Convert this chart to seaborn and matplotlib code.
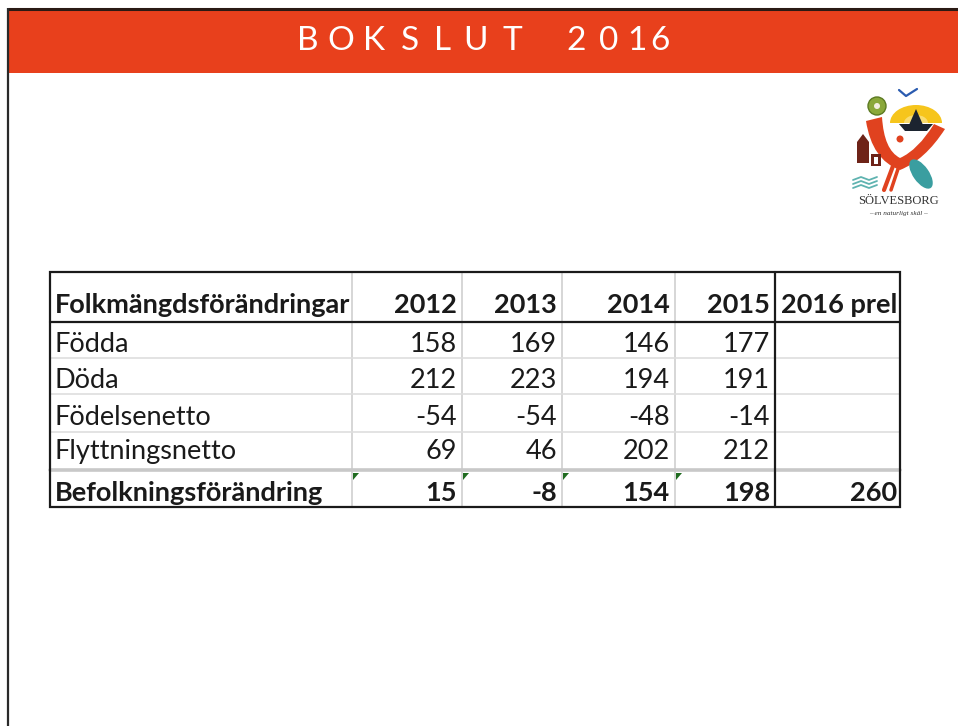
import numpy as np
import pandas as pd
import matplotlib
matplotlib.use("Agg")
import matplotlib.pyplot as plt
import seaborn as sns
from matplotlib.patches import Rectangle, Polygon, Circle, Ellipse, PathPatch
from matplotlib.path import Path

# ---------------- data ----------------
title = "BOKSLUT 2016"
header_label = "Folkmängdsförändringar"
columns = ["2012", "2013", "2014", "2015", "2016 prel"]
row_labels = ["Födda", "Döda", "Födelsenetto", "Flyttningsnetto", "Befolkningsförändring"]
fodda = [158, 169, 146, 177, None]
doda = [212, 223, 194, 191, None]
fodelsenetto = [-54, -54, -48, -14, None]
flyttningsnetto = [69, 46, 202, 212, None]
befolkningsforandring = [15, -8, 154, 198, 260]

table = pd.DataFrame([fodda, doda, fodelsenetto, flyttningsnetto, befolkningsforandring],
                     index=row_labels, columns=columns)

# ---------------- style ----------------
sns.set_theme(style="white")
plt.rcParams["font.family"] = ["Lato", "DejaVu Sans"]

W, H = 958, 726
fig = plt.figure(figsize=(W / 100, H / 100), dpi=100)
ax = fig.add_axes([0, 0, 1, 1])
ax.set_xlim(0, W)
ax.set_ylim(H, 0)
ax.axis("off")

RED = "#e8401c"
DARK = "#1a1a1a"
GRID = "#cfcfcf"

# slide frame and title band
ax.add_patch(Rectangle((8, 10), W - 8, 63, facecolor=RED, edgecolor="none", zorder=1))
ax.plot([8, W], [9, 9], color="#2a1a14", lw=2.2, zorder=2, solid_capstyle="butt")
ax.plot([8, 8], [8, H], color="#2a2a2a", lw=1.6, zorder=2, solid_capstyle="butt")

# letter-spaced title: one glyph per slot
title_slots = [308, 341, 374, 410, 443, 476, 512, None, 576, 609, 637, 660]
for ch, xc in zip(title, title_slots):
    if xc is None or ch == " ":
        continue
    ax.text(xc, 40.5, ch, color="white", fontsize=24, ha="center", va="center", zorder=3)

# ---------------- table layout ----------------
col_edges = [50, 352, 462, 562, 675, 775, 900]
row_edges = [272, 322, 358, 394, 432, 470, 507]
baselines = [313, 352, 388, 425, 459, 501]
FS = 19.5
PAD = 5

# interior light grid lines
for x in col_edges[1:5]:
    ax.plot([x, x], [row_edges[0], row_edges[-1]], color=GRID, lw=1.2, zorder=2)
for y in row_edges[2:5]:
    ax.plot([col_edges[0], col_edges[-1]], [y, y], color="#dedede", lw=1.2, zorder=2)
ax.plot([col_edges[0], col_edges[-1]], [row_edges[5], row_edges[5]], color="#c8c8c8", lw=2.6, zorder=2)

# strong borders
ax.add_patch(Rectangle((col_edges[0], row_edges[0]), col_edges[-1] - col_edges[0],
                       row_edges[-1] - row_edges[0], facecolor="none", edgecolor=DARK,
                       lw=1.6, zorder=4))
ax.plot([col_edges[0], col_edges[-1]], [row_edges[1], row_edges[1]], color=DARK, lw=1.6, zorder=4)
ax.plot([col_edges[5], col_edges[5]], [row_edges[0], row_edges[-1]], color=DARK, lw=1.6, zorder=4)

# header
ax.text(col_edges[0] + PAD, baselines[0], header_label, fontsize=FS, fontweight="bold",
        color=DARK, ha="left", va="baseline", zorder=5)
for j, c in enumerate(table.columns):
    ax.text(col_edges[j + 2] - PAD + (2 if j == 4 else 0), baselines[0], c, fontsize=FS,
            fontweight="bold", color=DARK, ha="right", va="baseline", zorder=5)

# body
last = len(table.index) - 1
for i, lab in enumerate(table.index):
    bold = "bold" if i == last else "normal"
    ax.text(col_edges[0] + PAD, baselines[i + 1], lab, fontsize=FS, fontweight=bold,
            color=DARK, ha="left", va="baseline", zorder=5)
    for j, c in enumerate(table.columns):
        v = table.loc[lab, c]
        if v is None or pd.isna(v):
            continue
        ax.text(col_edges[j + 2] - PAD + (2 if j == 4 else 0), baselines[i + 1], f"{int(v)}",
                fontsize=FS, fontweight=bold, color=DARK, ha="right", va="baseline", zorder=5)

# excel error-indicator triangles on the result row
for x in col_edges[1:5]:
    y0 = row_edges[5] + 3
    ax.add_patch(Polygon([(x + 1, y0), (x + 7, y0), (x + 1, y0 + 7)], closed=True,
                         facecolor="#1f6b1f", edgecolor="none", zorder=6))

# ---------------- logo (approximation) ----------------
LRED = "#e0421f"
# sun fan
ax.add_patch(Ellipse((916, 123), 52, 36, facecolor="#f6c51c", edgecolor="none", zorder=3))
ax.add_patch(Rectangle((888, 123), 56, 20, facecolor="white", edgecolor="none", zorder=3))
ax.add_patch(Ellipse((916, 123), 24, 16, facecolor="#f9dc70", edgecolor="none", zorder=3))
ax.add_patch(Rectangle((900, 123), 32, 10, facecolor="white", edgecolor="none", zorder=3))
# ship / lighthouse
ax.add_patch(Polygon([(909, 125), (923, 125), (916, 109)], closed=True,
                     facecolor="#1c2430", edgecolor="none", zorder=4))
ax.add_patch(Polygon([(899, 124), (933, 124), (927, 131), (905, 131)], closed=True,
                     facecolor="#1c2430", edgecolor="none", zorder=4))
# green circle and bird
ax.add_patch(Circle((877, 106), 9, facecolor="#8aa83a", edgecolor="#5c7a22", lw=1, zorder=3))
ax.add_patch(Circle((877, 106), 3, facecolor="#f2efe0", edgecolor="none", zorder=3))
ax.plot([899, 906, 917], [90, 96, 89], color="#2a5bb0", lw=1.6, zorder=3)
# red figure: curved U band with flared left arm, then two legs
verts = [(866, 121), (882, 117), (884, 150), (900, 158), (918, 150), (934, 124), (945, 129),
         (925, 160), (900, 170), (872, 160), (866, 121), (866, 121)]
codes = [Path.MOVETO, Path.LINETO, Path.CURVE3, Path.CURVE3, Path.CURVE3, Path.CURVE3,
         Path.LINETO, Path.CURVE3, Path.CURVE3, Path.CURVE3, Path.CURVE3, Path.CLOSEPOLY]
ax.add_patch(PathPatch(Path(verts, codes), facecolor=LRED, edgecolor="none", zorder=4))
ax.plot([893, 884], [166, 190], color=LRED, lw=3, zorder=4)
ax.plot([899, 891], [166, 190], color=LRED, lw=2.5, zorder=4)
ax.add_patch(Circle((900, 139), 3.5, facecolor=LRED, edgecolor="none", zorder=4))
# house
ax.add_patch(Polygon([(857, 163), (857, 142), (863, 134), (869, 142), (869, 163)], closed=True,
                     facecolor="#6e2318", edgecolor="none", zorder=4))
ax.add_patch(Rectangle((871, 154), 10, 12, facecolor="#6e2318", edgecolor="none", zorder=4))
ax.add_patch(Rectangle((874, 157), 4, 7, facecolor="white", edgecolor="none", zorder=4))
# fish
ax.add_patch(Ellipse((921, 174), 16, 34, angle=-35, facecolor="#3a9ea0", edgecolor="none", zorder=4))
# waves
for k in range(3):
    ax.plot([853, 861, 869, 877], [180 + 4 * k, 177 + 4 * k, 180 + 4 * k, 177 + 4 * k],
            color="#5fb3b0", lw=1.3, zorder=4)
ax.text(898, 201, "SÖLVESBORG", fontsize=9, color="#333333", ha="center", va="center",
        family=["Liberation Serif", "DejaVu Serif"], zorder=5)
ax.text(898, 213, "– en naturligt skäl –", fontsize=5.2, color="#333333", ha="center",
        va="center", family=["Liberation Serif", "DejaVu Serif"], style="italic", zorder=5)

fig.savefig("out.png", dpi=100, facecolor="white")
